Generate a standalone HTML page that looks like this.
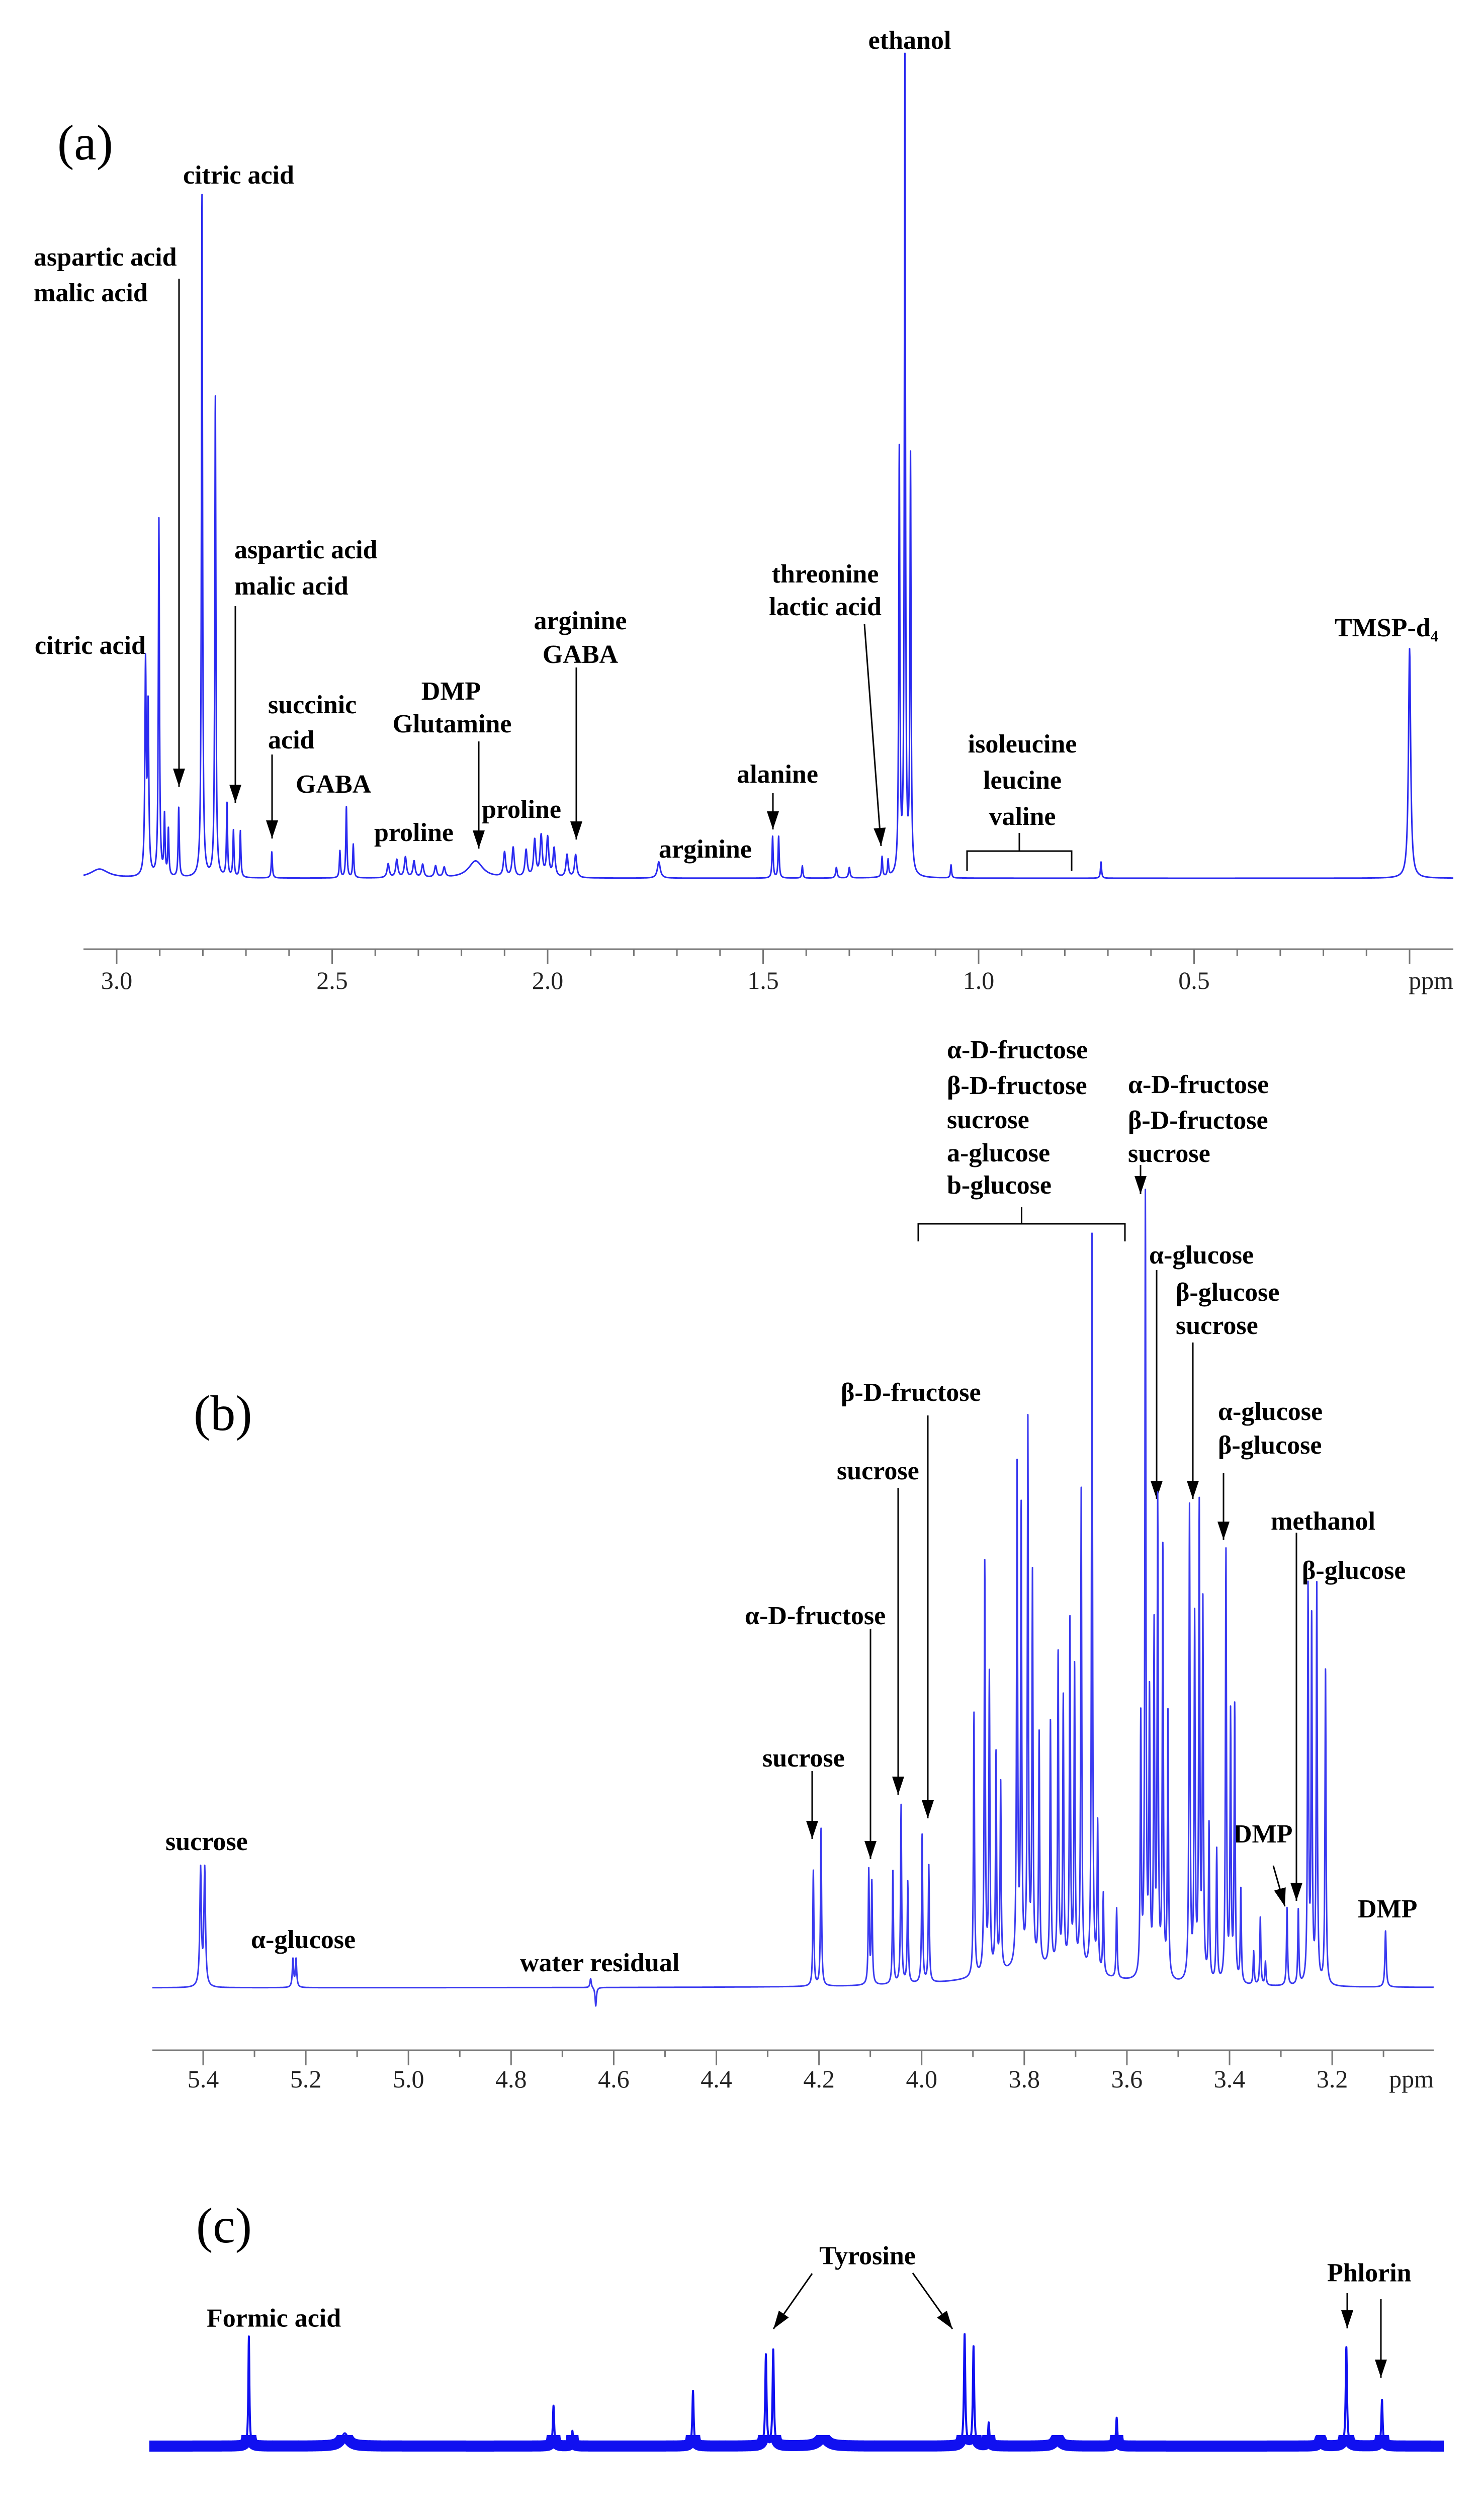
<!DOCTYPE html>
<html><head><meta charset="utf-8">
<style>
html,body{margin:0;padding:0;background:#fff;width:2951px;height:5171px;overflow:hidden;}
svg{display:block;position:absolute;left:0;top:0;}
.lb{font-family:"Liberation Serif",serif;font-weight:bold;font-size:52px;fill:#000;}
.tk{font-family:"Liberation Serif",serif;font-size:50px;fill:#222;}
.pn{font-family:"Liberation Serif",serif;font-size:100px;fill:#000;}
</style></head>
<body>
<svg id="fig" width="2951" height="5171" viewBox="0 0 2951 5171" xmlns="http://www.w3.org/2000/svg">
<g id="labels"></g>
</svg>
<script>
// Panel (a) peaks: ppm, intensity (ethanol = 100), half-width (ppm)
const aPpm=[3.04,2.933,2.927,2.902,2.889,2.880,2.856,2.802,2.771,2.744,2.729,2.713,2.640,2.482,2.467,2.451,2.37,2.35,2.33,2.31,2.29,2.26,2.24,2.167,2.10,2.08,2.05,2.03,2.015,2.00,1.985,1.955,1.935,1.742,1.478,1.464,1.409,1.33,1.30,1.224,1.210,1.184,1.171,1.158,1.064,0.716,0.0];
const aVal=[1.1,25.7,20,43.9,7.3,5.7,8.5,83.8,59,9,5.7,5.7,3.2,3.3,8.7,4.1,1.7,2.2,2.5,2.0,1.6,1.4,1.2,2.1,3.0,3.6,3.3,4.5,5.0,4.8,3.5,2.8,2.8,2.0,5.1,5.1,1.5,1.3,1.3,2.5,2.0,51.8,100,51,1.6,2.0,28.2];
const aWid=[0.025,0.0018,0.0018,0.0015,0.0015,0.0015,0.0015,0.0015,0.0015,0.0015,0.0015,0.0015,0.0015,0.0015,0.0015,0.0015,0.003,0.003,0.003,0.003,0.003,0.003,0.003,0.02,0.003,0.003,0.003,0.003,0.003,0.003,0.003,0.003,0.003,0.004,0.0015,0.0015,0.0015,0.002,0.002,0.0015,0.0015,0.0015,0.0015,0.0015,0.0015,0.0015,0.003];
const aTicks=["3.0","2.5","2.0","1.5","1.0","0.5"];

// Panel (b) peaks: ppm, intensity (3.564 peak = 100)
const bPpm=[5.405,5.397,5.225,5.219,4.645,4.635,4.211,4.196,4.103,4.097,4.056,4.040,4.027,3.999,3.986,3.77,3.898,3.877,3.868,3.855,3.846,3.814,3.806,3.793,3.784,3.771,3.749,3.734,3.724,3.711,3.702,3.689,3.668,3.657,3.646,3.620,3.573,3.564,3.556,3.547,3.540,3.530,3.520,3.478,3.468,3.459,3.452,3.440,3.425,3.407,3.398,3.390,3.378,3.353,3.340,3.330,3.288,3.266,3.247,3.240,3.230,3.213,3.096];
const bVal=[15,15,3.6,3.6,1.2,-2.4,14.8,20.2,14.6,13,14.5,22.9,13,19,15,2.5,33.9,52.6,38,27.8,24,63.9,58,69.4,49.6,29.6,31.3,40,34.3,44.3,38.3,61.6,94.8,19,10.4,9,33,100,35,44,60.4,54.8,34,60.7,46,60,47.8,20,17,55.2,34,35.2,12,4.3,8.7,3,10,9.6,50.4,46,50.9,40.4,7.2];
const bWid=[0.0018,0.0018,0.0015,0.0015,0.0015,0.0015,0.0012,0.0012,0.0012,0.0012,0.0012,0.0012,0.0012,0.0012,0.0012,0.12,0.0012,0.0012,0.0012,0.0012,0.0012,0.0012,0.0012,0.0012,0.0012,0.0012,0.0012,0.0012,0.0012,0.0012,0.0012,0.0012,0.0012,0.0012,0.0012,0.0012,0.0012,0.0012,0.0012,0.0012,0.0012,0.0012,0.0012,0.0012,0.0012,0.0012,0.0012,0.0012,0.0012,0.0012,0.0012,0.0012,0.0012,0.0012,0.0012,0.0012,0.0012,0.0012,0.0012,0.0012,0.0012,0.0012,0.0015];
const bTicks=["5.4","5.2","5.0","4.8","4.6","4.4","4.2","4.0","3.8","3.6","3.4","3.2"];

// Panel (c) peaks: ppm, intensity (6.944 peak = 100)
const cPpm=[8.309,8.126,7.728,7.692,7.462,7.323,7.309,7.214,6.944,6.927,6.898,6.767,6.654,6.265,6.216,6.148];
const cVal=[98.6,11.5,36.3,13.7,49.7,81.6,86,8,100,89,21,8,25.5,7,89,41.6];
const cWid=[0.0012,0.008,0.0015,0.0015,0.0015,0.0015,0.0015,0.01,0.0015,0.0015,0.0015,0.006,0.0015,0.003,0.0015,0.0015];
const cTicks=["8.4","8.2","8.0","7.8","7.6","7.4","7.2","7.0","6.8","6.6","6.4","6.2"];

const NS="http://www.w3.org/2000/svg";
const fig=document.getElementById('fig');
function mk(tag,attrs,parent){const e=document.createElementNS(NS,tag);for(const k in attrs)e.setAttribute(k,attrs[k]);(parent||fig).appendChild(e);return e;}

const panels=[
 {id:'a',ppm:aPpm,val:aVal,wid:aWid,x0:232,p0:3.0,ppx:857,base:1746,vs:16.18,ax0:166,ax1:2890,ay:1887,ly:1949,ticks:aTicks,maj:0.5,min:0.1,tMax:3.0,tMin:0.0,sw:3,col:'#2a2af0',band:0},
 {id:'b',ppm:bPpm,val:bVal,wid:bWid,x0:404,p0:5.4,ppx:1020.5,base:3952,vs:15.48,ax0:303,ax1:2851,ay:4076,ly:4133,ticks:bTicks,maj:0.2,min:0.1,tMax:5.5,tMin:3.0,sw:3,col:'#3a3af0',band:0},
 {id:'c',ppm:cPpm,val:cVal,wid:cWid,x0:400,p0:8.4,ppx:1042.7,base:4863,vs:2.21,ax0:297,ax1:2871,ay:5010,ly:5078,ticks:cTicks,maj:0.2,min:0.1,tMax:8.5,tMin:6.1,sw:4,col:'#1010f0',band:22}
];

panels.forEach(P=>{
 const X=p=>P.x0+(P.p0-p)*P.ppx;
 const Pp=x=>P.p0-(x-P.x0)/P.ppx;
 const Y=v=>P.base-v*P.vs;
 const g=mk('g',{});
 
 
 let xs=[];
 for(let x=P.ax0;x<=P.ax1;x+=0.5)xs.push(x);
 P.ppm.forEach(c=>xs.push(X(c)));
 xs=xs.filter(x=>x>=P.ax0&&x<=P.ax1).sort((a,b)=>a-b);
 let d='';
 xs.forEach((x,i)=>{const p=Pp(x);let s=0;
  for(let k=0;k<P.ppm.length;k++){const g2=P.wid[k]*P.wid[k];const dd=p-P.ppm[k];s+=P.val[k]*g2/(dd*dd+g2);}
  d+=(i?'L':'M')+x.toFixed(1)+' '+Y(s).toFixed(1);});
 if(P.band){
  const b=mk('path',{d:d,fill:'none',stroke:P.col,'stroke-width':P.band,'stroke-linejoin':'miter','stroke-miterlimit':1},g);
  
  
  b.setAttribute('clip-path','url(#clipc)');
  const cp=mk('clipPath',{id:'clipc'},g);
  mk('rect',{x:0,y:P.base-P.band,width:2951,height:P.band*2},cp);
 }
 const path=mk('path',{d:d,fill:'none',stroke:P.col,'stroke-width':P.sw,'stroke-linejoin':'round'},g);
 
 
 const ax=mk('line',{x1:P.ax0,x2:P.ax1,y1:P.ay,y2:P.ay,stroke:'#777','stroke-width':3},g);
 
 
 const nMin=Math.round((P.tMax-P.tMin)/P.min);
 for(let i=0;i<=nMin;i++){const p=P.tMax-i*P.min;const x=X(p);if(x<P.ax0-1||x>P.ax1+1)continue;
  const isMaj=Math.abs(p/P.maj-Math.round(p/P.maj))<1e-6;
  const t=mk('line',{x1:x,x2:x,y1:P.ay,y2:P.ay+(isMaj?30:14),stroke:'#777','stroke-width':3},g);
  
  }
 P.ticks.forEach(s=>{const t=mk('text',{x:X(parseFloat(s)),y:P.ly+17,'text-anchor':'middle',class:'tk'},g);t.textContent=s;
  
  });
 const u=mk('text',{x:P.ax1,y:P.ly+17,'text-anchor':'end',class:'tk','font-size':'42'},g);u.textContent='ppm';
 
 
});

const L=document.getElementById('labels');
function label(txt,x,y,anchor,size,name,cls){const t=mk('text',{x:x,y:y+(size||52)*0.35,'text-anchor':anchor||'start',class:cls||'lb','font-size':size||52},L);t.textContent=txt;
 
 }
function arrow(x1,y1,x2,y2){const l=mk('line',{x1:x1,y1:y1,x2:x2,y2:y2,stroke:'#000','stroke-width':3},L);
 
 
 const a=Math.atan2(y2-y1,x2-x1),h=36,w=12;
 const bx=x2-h*Math.cos(a),by=y2-h*Math.sin(a);
 const pts=[x2,y2,bx+w*Math.sin(a),by-w*Math.cos(a),bx-w*Math.sin(a),by+w*Math.cos(a)].map(v=>v.toFixed(1)).join(' ');
 const pg=mk('polygon',{points:pts,fill:'#000'},L);
 
 }
function bracket(x1,x2,y,yc,ye){const p=mk('path',{d:`M${x1} ${ye}L${x1} ${y}L${(x1+x2)/2} ${y}L${(x1+x2)/2} ${yc}M${(x1+x2)/2} ${y}L${x2} ${y}L${x2} ${ye}`,fill:'none',stroke:'#000','stroke-width':3},L);
 
 }

label('(a)',114,282,'start',100,'panel-label-a','pn');
label('(b)',385,2808,'start',100,'panel-label-b','pn');
label('(c)',390,4423,'start',100,'panel-label-c','pn');

label('ethanol',1809,79,'middle');
label('citric acid',364,347);
label('aspartic acid',67,510);label('malic acid',67,581);
arrow(356,554,356,1564);
label('aspartic acid',466,1092);label('malic acid',466,1164);
arrow(468,1205,468,1596);
label('citric acid',69,1282);
label('succinic',533,1400);label('acid',533,1470);
arrow(541,1500,541,1667);
label('GABA',588,1558);
label('DMP',897,1373,'middle');label('Glutamine',899,1438,'middle');
arrow(952,1474,952,1687);
label('proline',744,1654);
label('proline',958,1608);
label('arginine',1154,1233,'middle');label('GABA',1154,1300,'middle');
arrow(1146,1327,1146,1669);
label('arginine',1310,1687);
label('alanine',1546,1538,'middle');
arrow(1537,1577,1537,1649);
label('threonine',1641,1140,'middle');label('lactic acid',1641,1205,'middle');
arrow(1719,1241,1752,1682);
label('isoleucine',2033,1478,'middle');label('leucine',2033,1550,'middle');label('valine',2033,1622,'middle');
bracket(1923,2131,1692,1656,1731);
label('TMSP-d\u2084',2654,1247);

['\u03b1-D-fructose','\u03b2-D-fructose','sucrose','a-glucose','b-glucose'].forEach((t,i)=>label(t,1883,[2086,2157,2225,2291,2355][i]));
bracket(1826,2237,2433,2400,2468);
['\u03b1-D-fructose','\u03b2-D-fructose','sucrose'].forEach((t,i)=>label(t,2243,[2155,2226,2292][i]));
arrow(2268,2316,2268,2374);
label('\u03b1-glucose',2285,2494);
label('\u03b2-glucose',2338,2568);label('sucrose',2338,2634);
arrow(2300,2525,2300,2980);
arrow(2372,2669,2372,2980);
label('\u03b1-glucose',2422,2805);label('\u03b2-glucose',2422,2872);
arrow(2433,2929,2433,3061);
label('methanol',2527,3023);
arrow(2578,3047,2578,3779);
label('\u03b2-glucose',2589,3121);
label('DMP',2452,3645);
arrow(2532,3709,2555,3790);
label('DMP',2700,3794);
label('\u03b2-D-fructose',1672,2767);
arrow(1845,2814,1845,3615);
label('sucrose',1664,2923);
arrow(1786,2958,1786,3568);
label('\u03b1-D-fructose',1481,3211);
arrow(1731,3238,1731,3696);
label('sucrose',1516,3494);
arrow(1615,3521,1615,3656);
label('sucrose',329,3660);
label('\u03b1-glucose',499,3855);
label('water residual',1034,3901);

label('Formic acid',411,4605,'start',58);
label('Tyrosine',1725,4481,'middle',58);
arrow(1615,4520,1538,4630);
arrow(1815,4519,1894,4630);
label('Phlorin',2639,4515,'start',58);
arrow(2679,4559,2679,4629);
arrow(2746,4571,2746,4727);
</script>
</body></html>
